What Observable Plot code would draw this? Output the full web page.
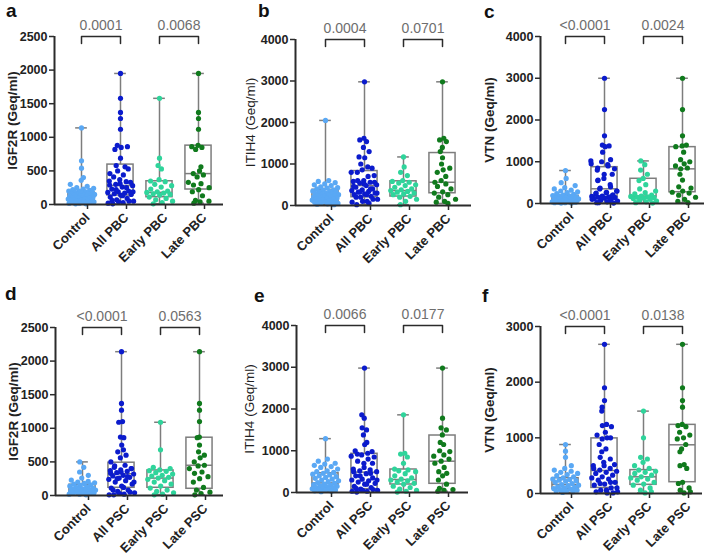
<!DOCTYPE html>
<html><head><meta charset="utf-8">
<script src="https://cdn.jsdelivr.net/npm/d3@7"></script>
<script src="https://cdn.jsdelivr.net/npm/@observablehq/plot@0.6"></script>
<style>
body{margin:0;background:#fff;}
#fig{position:relative;width:708px;height:556px;background:#fff;font-family:"Liberation Sans",Arial,sans-serif;overflow:hidden;}
.panel{position:absolute;}
.letter{position:absolute;font-weight:bold;font-size:19px;line-height:1;color:#111;}
</style></head><body><div id="fig"></div>
<script>
// ---------- categories, labels ----------
const pbcGroups = ["Control", "All PBC", "Early PBC", "Late PBC"];
const pscGroups = ["Control", "All PSC", "Early PSC", "Late PSC"];
const groupColors = ["#5aa8f4", "#0b1bcc", "#2fd49b", "#107a1d"];
const panelLetters = ["a", "b", "c", "d", "e", "f"];
const yLabels = ["IGF2R (Geq/ml)", "ITIH4 (Geq/ml)", "VTN (Geq/ml)", "IGF2R (Geq/ml)", "ITIH4 (Geq/ml)", "VTN (Geq/ml)"];
const yLabelWeights = ["bold", "normal", "bold", "bold", "normal", "bold"];
const yMax = [2500, 4000, 4000, 2500, 4000, 3000];
const yTicks = [
  [0, 500, 1000, 1500, 2000, 2500],
  [0, 1000, 2000, 3000, 4000],
  [0, 1000, 2000, 3000, 4000],
  [0, 500, 1000, 1500, 2000, 2500],
  [0, 1000, 2000, 3000, 4000],
  [0, 1000, 2000, 3000]
];
const pValues = [
  ["0.0001", "0.0068"], ["0.0004", "0.0701"], ["<0.0001", "0.0024"],
  ["<0.0001", "0.0563"], ["0.0066", "0.0177"], ["<0.0001", "0.0138"]
];

// ---------- dot values (All = Early + Late) ----------
const aControl = [1140,650,540,400,360,300,270,250,240,230,220,210,200,200,190,180,180,170,160,160,150,150,140,140,130,130,120,120,110,110,100,100,90,90,80,80,70,70,60,60,50,50,40,40,30,30,20,20,10,10];
const aEarly = [1580,690,580,530,370,350,340,300,280,260,230,200,190,180,170,160,150,140,110,90,70,50,30,10];
const aLate = [1950,1370,1280,1120,880,860,850,820,560,500,460,440,410,330,310,290,250,220,190,130,60,50,40,20];

const bControl = [2050,600,580,550,520,500,480,450,430,420,400,380,370,350,340,330,320,300,290,280,270,260,250,240,230,220,210,200,190,180,170,160,150,140,130,120,110,100,90,80,70,60,50,40,30,20];
const bEarly = [1170,930,800,720,600,580,560,540,500,480,440,400,380,360,340,320,300,280,260,220,200,150,100,20];
const bLate = [2980,1620,1580,1540,1400,1300,1150,1000,900,860,800,700,600,560,520,460,400,330,300,260,200,150,100,80,50];

const cControl = [790,600,500,430,380,350,320,300,280,260,240,220,200,190,180,170,160,150,140,130,120,110,100,100,90,90,80,80,70,70,60,60,50,50,40,40,30,30,20,20,10,10];
const cEarly = [1020,930,800,700,600,550,450,350,300,260,230,200,180,170,160,150,140,130,120,100,80,60,40,20,10];
const cLate = [3000,2250,1620,1400,1380,1360,1230,1050,1000,950,900,850,830,700,560,400,370,300,270,250,200,150,100,50,20];

const dControl = [500,420,350,300,260,230,210,200,190,180,170,160,150,140,130,120,110,100,100,90,90,80,80,70,70,60,60,50,50,40,40,30,30,20,20,10];
const dEarly = [1090,680,420,400,380,370,360,340,320,300,290,270,260,240,220,200,170,140,110,80,60,40,20,10];
const dLate = [2140,1370,1270,1100,870,860,750,650,600,560,500,450,440,400,350,330,280,250,200,120,80,50,30,10];

const eControl = [1290,800,750,700,680,650,620,600,560,520,500,480,460,440,420,400,380,360,340,320,300,280,260,240,220,200,190,180,160,150,140,120,110,100,90,80,70,60,50,40,30,20];
const eEarly = [1860,940,920,850,700,560,540,520,500,450,400,350,320,300,280,250,220,200,150,120,80,50,30,10];
const eLate = [2980,1780,1550,1500,1380,1200,1150,1000,980,900,870,800,750,700,600,500,460,400,300,200,100,70,50,30];

const fControl = [880,760,650,500,450,420,400,380,360,340,320,300,280,260,250,240,230,220,200,180,160,150,140,120,110,100,90,80,70,60,50,40,30,20];
const fEarly = [1480,1000,650,620,560,500,450,420,400,380,360,330,300,280,260,240,200,170,150,100,60,30,10];
const fLate = [2680,1900,1670,1550,1240,1220,1200,1100,1050,1000,980,880,800,750,520,500,450,200,180,100,60,30,10];

// ---------- box stats [min, q1, median, q3, max] : Control, All, Early, Late ----------
const aBoxes = [[10,60,100,180,1140],[10,134,282,594,1950],[10,109,180,346,1580],[20,223,460,876,1950]];
const bBoxes = [[20,80,200,378,2050],[20,200,480,830,2980],[20,216,360,583,1170],[50,295,560,1264,2980]];
const cBoxes = [[10,40,100,184,790],[10,151,352,870,3000],[10,150,180,592,1020],[20,270,830,1350,3000]];
const dBoxes = [[10,25,75,160,500],[10,115,324,488,2140],[10,115,259,373,1090],[10,100,450,860,2140]];
const eBoxes = [[20,130,230,460,1290],[10,80,487,927,2980],[10,192,311,551,1860],[30,208,750,1365,2980]];
const fBoxes = [[20,84,162,275,880],[10,100,413,990,2680],[10,156,300,420,1480],[10,203,875,1233,2680]];

// ---------- layout (pixels within each 236x278 panel) ----------
const panelLayout = [
  {left: 54, right: 223, cat0: 81, top: 36, bottom: 204, labelX: 7,  lx: 6,   ly: 1},
  {left: 59, right: 235, cat0: 89, top: 39, bottom: 205, labelX: 9,  lx: 258, ly: 1},
  {left: 68, right: 232, cat0: 93, top: 36, bottom: 203, labelX: 12, lx: 484, ly: 2},
  {left: 55, right: 223, cat0: 82, top: 49, bottom: 217, labelX: 8,  lx: 5,   ly: 284},
  {left: 60, right: 232, cat0: 89, top: 47, bottom: 214, labelX: 8,  lx: 254, ly: 286},
  {left: 68, right: 230, cat0: 93, top: 48, bottom: 215, labelX: 12, lx: 482, ly: 286}
];
const catStep = 39;

const panelDots = [
  [aControl, aEarly, aLate], [bControl, bEarly, bLate], [cControl, cEarly, cLate],
  [dControl, dEarly, dLate], [eControl, eEarly, eLate], [fControl, fEarly, fLate]
];
const panelBoxes = [aBoxes, bBoxes, cBoxes, dBoxes, eBoxes, fBoxes];

// deterministic scatter layout: spread depends on local density
function scatter(values, gi, ymax) {
  const win = ymax * 0.035;
  return values.map((v, i) => {
    const n = values.filter(w => Math.abs(w - v) < win).length;
    const amp = 0.35 * Math.min(1, (n - 1) / 5);
    const u = ((i * 0.6180339887) % 1) - 0.5;
    return {x: gi + 2 * amp * u, v, g: gi};
  });
}

const fig = document.getElementById("fig");
const boxStroke = "#7d7d7d";
const axisColor = "#2b2b2b";
const font = "'Liberation Sans', Arial, sans-serif";

for (let p = 0; p < 6; p++) {
  const L = panelLayout[p];
  const ymax = yMax[p];
  const groups = p < 3 ? pbcGroups : pscGroups;
  const [ctrl, early, late] = panelDots[p];
  const all = early.concat(late);
  const dots = [
    ...scatter(ctrl, 0, ymax), ...scatter(all, 1, ymax),
    ...scatter(early, 2, ymax), ...scatter(late, 3, ymax)
  ];
  const boxes = panelBoxes[p].map((b, i) => ({i, min: b[0], q1: b[1], med: b[2], q3: b[3], max: b[4]}));
  const xlo = -(L.cat0 - L.left) / catStep;
  const xhi = (L.right - L.cat0) / catStep;
  const delta = ymax * 0.042;
  const pairs = [[0, 1], [2, 3]];
  const bracketPts = pairs.flatMap(([a, b], k) => [
    {x: a, y: ymax - delta, k}, {x: a, y: ymax, k}, {x: b, y: ymax, k}, {x: b, y: ymax - delta, k}
  ]);
  const hw = 0.335, cap = 0.15;

  const chart = Plot.plot({
    width: 236, height: 278,
    marginLeft: L.left, marginRight: 236 - L.right, marginTop: L.top, marginBottom: 278 - L.bottom,
    style: {fontFamily: font, background: "transparent", overflow: "visible"},
    x: {domain: [xlo, xhi]},
    y: {domain: [0, ymax]},
    color: {type: "identity"},
    marks: [
      Plot.ruleX(boxes, {x: "i", y1: "min", y2: "q1", stroke: boxStroke, strokeWidth: 1.5}),
      Plot.ruleX(boxes, {x: "i", y1: "q3", y2: "max", stroke: boxStroke, strokeWidth: 1.5}),
      Plot.ruleY(boxes, {x1: d => d.i - cap, x2: d => d.i + cap, y: "max", stroke: boxStroke, strokeWidth: 1.5}),
      Plot.ruleY(boxes, {x1: d => d.i - cap, x2: d => d.i + cap, y: "min", stroke: boxStroke, strokeWidth: 1.5}),
      Plot.rect(boxes, {x1: d => d.i - hw, x2: d => d.i + hw, y1: "q1", y2: "q3", fill: "none", stroke: boxStroke, strokeWidth: 1.5}),
      Plot.ruleY(boxes, {x1: d => d.i - hw, x2: d => d.i + hw, y: "med", stroke: boxStroke, strokeWidth: 1.5}),
      Plot.dot(dots, {x: "x", y: "v", r: 2.6, fill: d => groupColors[d.g], stroke: "none"}),
      Plot.line(bracketPts, {x: "x", y: "y", z: "k", stroke: axisColor, strokeWidth: 1.5}),
      Plot.text(pairs, {x: d => (d[0] + d[1]) / 2, y: ymax, text: (d, k) => pValues[p][k], dy: -7, lineAnchor: "bottom", fill: "#6e6e6e", fontSize: 14}),
      Plot.ruleY([0], {stroke: axisColor, strokeWidth: 2}),
      Plot.ruleX([xlo], {y1: 0, y2: ymax, stroke: axisColor, strokeWidth: 2}),
      Plot.axisY({ticks: yTicks[p], tickFormat: d => String(d), tickSize: 5, tickPadding: 2, stroke: axisColor, strokeWidth: 1.5, fill: "#222", fontSize: 12.5, fontWeight: "bold", label: null}),
      Plot.text([yLabels[p]], {frameAnchor: "left", rotate: -90, dx: -(L.left - L.labelX), textAnchor: "middle", lineAnchor: "top",
        fontSize: 13.5, fontWeight: yLabelWeights[p], fill: "#222"}),
      Plot.axisX({ticks: [0, 1, 2, 3], tickFormat: i => groups[i], tickRotate: -45, tickSize: 5, tickPadding: 6, dx: 6, stroke: axisColor, strokeWidth: 1.5,
        fill: "#222", fontSize: 13, fontWeight: "bold", label: null})
    ]
  });
  chart.classList.add("panel");
  chart.style.left = (p % 3) * 236 + "px";
  chart.style.top = Math.floor(p / 3) * 278 + "px";
  fig.appendChild(chart);

  const letter = document.createElement("div");
  letter.className = "letter";
  letter.textContent = panelLetters[p];
  letter.style.left = L.lx + "px";
  letter.style.top = L.ly + "px";
  fig.appendChild(letter);
}
</script>
</body></html>
